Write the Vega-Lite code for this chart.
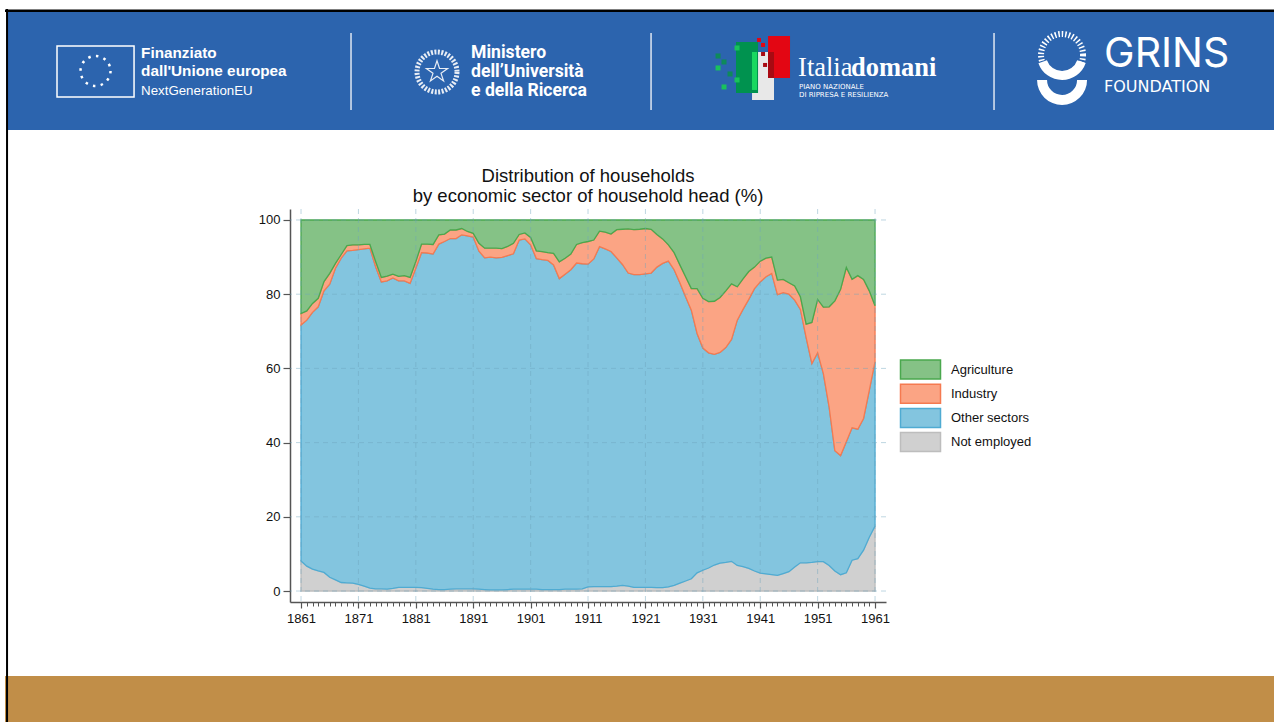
{
"$schema":"https://vega.github.io/schema/vega-lite/v6.json",
"width":596,"height":393,
"autosize":{"type":"none"},
"padding":{"left":290,"top":209,"right":388,"bottom":120},
"background":"white",
"config":{"view":{"stroke":null}},
"title":{"text":["Distribution of households","by economic sector of household head (%)"],"font":"Liberation Sans","fontSize":18.5,"fontWeight":"normal","color":"#111","anchor":"middle","frame":"group","lineHeight":20,"offset":6,"dy":203},
"datasets":{"households":[
{"year":1861,"Agriculture":25.2,"Industry":3.1,"Other sectors":63.6,"Not employed":8.1},
{"year":1862,"Agriculture":24.5,"Industry":2.5,"Other sectors":66.3,"Not employed":6.7},
{"year":1863,"Agriculture":22.5,"Industry":2.4,"Other sectors":69.2,"Not employed":5.9},
{"year":1864,"Agriculture":21.1,"Industry":2.3,"Other sectors":71.2,"Not employed":5.4},
{"year":1865,"Agriculture":16.6,"Industry":2.5,"Other sectors":75.9,"Not employed":5},
{"year":1866,"Agriculture":14.4,"Industry":2.9,"Other sectors":79,"Not employed":3.7},
{"year":1867,"Agriculture":11.7,"Industry":1.3,"Other sectors":84,"Not employed":3},
{"year":1868,"Agriculture":9.3,"Industry":1,"Other sectors":87.4,"Not employed":2.3},
{"year":1869,"Agriculture":6.9,"Industry":1.4,"Other sectors":89.5,"Not employed":2.2},
{"year":1870,"Agriculture":6.7,"Industry":1.5,"Other sectors":89.7,"Not employed":2.1},
{"year":1871,"Agriculture":6.7,"Industry":1.3,"Other sectors":90.2,"Not employed":1.8},
{"year":1872,"Agriculture":6.6,"Industry":1.2,"Other sectors":90.9,"Not employed":1.3},
{"year":1873,"Agriculture":6.6,"Industry":1,"Other sectors":91.6,"Not employed":0.8},
{"year":1874,"Agriculture":11.2,"Industry":1.4,"Other sectors":86.8,"Not employed":0.6},
{"year":1875,"Agriculture":15.5,"Industry":1.2,"Other sectors":82.7,"Not employed":0.6},
{"year":1876,"Agriculture":15.1,"Industry":1.3,"Other sectors":83.1,"Not employed":0.5},
{"year":1877,"Agriculture":14.6,"Industry":1,"Other sectors":83.7,"Not employed":0.7},
{"year":1878,"Agriculture":15.2,"Industry":1.2,"Other sectors":82.6,"Not employed":1},
{"year":1879,"Agriculture":15,"Industry":1.4,"Other sectors":82.6,"Not employed":1},
{"year":1880,"Agriculture":15.5,"Industry":1.6,"Other sectors":81.9,"Not employed":1},
{"year":1881,"Agriculture":11.2,"Industry":1.8,"Other sectors":86,"Not employed":1},
{"year":1882,"Agriculture":6.5,"Industry":2.3,"Other sectors":90.3,"Not employed":0.9},
{"year":1883,"Agriculture":6.5,"Industry":2.4,"Other sectors":90.4,"Not employed":0.7},
{"year":1884,"Agriculture":6.6,"Industry":2.6,"Other sectors":90.3,"Not employed":0.5},
{"year":1885,"Agriculture":4,"Industry":2.5,"Other sectors":93.1,"Not employed":0.4},
{"year":1886,"Agriculture":3.8,"Industry":2,"Other sectors":93.8,"Not employed":0.4},
{"year":1887,"Agriculture":2.7,"Industry":2.3,"Other sectors":94.5,"Not employed":0.5},
{"year":1888,"Agriculture":2.7,"Industry":2.3,"Other sectors":94.4,"Not employed":0.6},
{"year":1889,"Agriculture":2.3,"Industry":1.7,"Other sectors":95.4,"Not employed":0.6},
{"year":1890,"Agriculture":3.1,"Industry":1.2,"Other sectors":95.1,"Not employed":0.6},
{"year":1891,"Agriculture":3.6,"Industry":1,"Other sectors":94.8,"Not employed":0.6},
{"year":1892,"Agriculture":6.3,"Industry":2.1,"Other sectors":91.1,"Not employed":0.5},
{"year":1893,"Agriculture":7.6,"Industry":2.6,"Other sectors":89.4,"Not employed":0.4},
{"year":1894,"Agriculture":7.6,"Industry":2.4,"Other sectors":89.7,"Not employed":0.3},
{"year":1895,"Agriculture":7.6,"Industry":2.6,"Other sectors":89.5,"Not employed":0.3},
{"year":1896,"Agriculture":7.7,"Industry":2.4,"Other sectors":89.6,"Not employed":0.3},
{"year":1897,"Agriculture":7.1,"Industry":2.5,"Other sectors":90,"Not employed":0.4},
{"year":1898,"Agriculture":6.3,"Industry":2.8,"Other sectors":90.4,"Not employed":0.5},
{"year":1899,"Agriculture":3.9,"Industry":1.5,"Other sectors":94.1,"Not employed":0.5},
{"year":1900,"Agriculture":3.5,"Industry":1.6,"Other sectors":94.4,"Not employed":0.5},
{"year":1901,"Agriculture":4.7,"Industry":2,"Other sectors":92.8,"Not employed":0.5},
{"year":1902,"Agriculture":8.3,"Industry":2.1,"Other sectors":89.1,"Not employed":0.5},
{"year":1903,"Agriculture":8.5,"Industry":2.2,"Other sectors":88.9,"Not employed":0.4},
{"year":1904,"Agriculture":8.8,"Industry":2.1,"Other sectors":88.7,"Not employed":0.4},
{"year":1905,"Agriculture":9,"Industry":3.1,"Other sectors":87.5,"Not employed":0.4},
{"year":1906,"Agriculture":11.3,"Industry":4.5,"Other sectors":83.8,"Not employed":0.4},
{"year":1907,"Agriculture":10.3,"Industry":4.3,"Other sectors":84.9,"Not employed":0.5},
{"year":1908,"Agriculture":9.2,"Industry":4.2,"Other sectors":86.1,"Not employed":0.5},
{"year":1909,"Agriculture":6.6,"Industry":5,"Other sectors":87.9,"Not employed":0.5},
{"year":1910,"Agriculture":6.1,"Industry":5.7,"Other sectors":87.6,"Not employed":0.6},
{"year":1911,"Agriculture":5.8,"Industry":6.1,"Other sectors":87,"Not employed":1.1},
{"year":1912,"Agriculture":5.4,"Industry":5.1,"Other sectors":88.3,"Not employed":1.2},
{"year":1913,"Agriculture":3,"Industry":4.2,"Other sectors":91.6,"Not employed":1.2},
{"year":1914,"Agriculture":3.3,"Industry":4.5,"Other sectors":91,"Not employed":1.2},
{"year":1915,"Agriculture":3.8,"Industry":4.7,"Other sectors":90.3,"Not employed":1.2},
{"year":1916,"Agriculture":2.6,"Industry":7.6,"Other sectors":88.5,"Not employed":1.3},
{"year":1917,"Agriculture":2.5,"Industry":9.5,"Other sectors":86.5,"Not employed":1.5},
{"year":1918,"Agriculture":2.4,"Industry":11.9,"Other sectors":84.4,"Not employed":1.3},
{"year":1919,"Agriculture":2.6,"Industry":12.1,"Other sectors":84.3,"Not employed":1},
{"year":1920,"Agriculture":2.5,"Industry":12.2,"Other sectors":84.3,"Not employed":1},
{"year":1921,"Agriculture":2.3,"Industry":12.2,"Other sectors":84.5,"Not employed":1},
{"year":1922,"Agriculture":2.5,"Industry":11.8,"Other sectors":84.7,"Not employed":1},
{"year":1923,"Agriculture":3.9,"Industry":8.8,"Other sectors":86.4,"Not employed":0.9},
{"year":1924,"Agriculture":5.1,"Industry":6.6,"Other sectors":87.4,"Not employed":0.9},
{"year":1925,"Agriculture":6.7,"Industry":4.4,"Other sectors":87.8,"Not employed":1.1},
{"year":1926,"Agriculture":8.8,"Industry":4.6,"Other sectors":85.1,"Not employed":1.5},
{"year":1927,"Agriculture":12.1,"Industry":4.8,"Other sectors":81,"Not employed":2.1},
{"year":1928,"Agriculture":15.3,"Industry":5.4,"Other sectors":76.6,"Not employed":2.7},
{"year":1929,"Agriculture":18.5,"Industry":5.8,"Other sectors":72.4,"Not employed":3.3},
{"year":1930,"Agriculture":18.5,"Industry":12.1,"Other sectors":64.5,"Not employed":4.9},
{"year":1931,"Agriculture":21.1,"Industry":13.4,"Other sectors":59.9,"Not employed":5.6},
{"year":1932,"Agriculture":22,"Industry":13.8,"Other sectors":58,"Not employed":6.2},
{"year":1933,"Agriculture":21.9,"Industry":14.3,"Other sectors":56.8,"Not employed":7},
{"year":1934,"Agriculture":20.9,"Industry":14.8,"Other sectors":56.8,"Not employed":7.5},
{"year":1935,"Agriculture":19.1,"Industry":15.3,"Other sectors":57.9,"Not employed":7.7},
{"year":1936,"Agriculture":17.2,"Industry":15,"Other sectors":59.8,"Not employed":8},
{"year":1937,"Agriculture":18,"Industry":9,"Other sectors":66.1,"Not employed":6.9},
{"year":1938,"Agriculture":15.9,"Industry":8.2,"Other sectors":69.3,"Not employed":6.6},
{"year":1939,"Agriculture":13.9,"Industry":7.5,"Other sectors":72.5,"Not employed":6.1},
{"year":1940,"Agriculture":12.7,"Industry":5.8,"Other sectors":76.1,"Not employed":5.4},
{"year":1941,"Agriculture":11.1,"Industry":5.6,"Other sectors":78.5,"Not employed":4.8},
{"year":1942,"Agriculture":10.3,"Industry":5,"Other sectors":80.1,"Not employed":4.6},
{"year":1943,"Agriculture":10,"Industry":4.4,"Other sectors":81.2,"Not employed":4.4},
{"year":1944,"Agriculture":16.2,"Industry":3.9,"Other sectors":75.7,"Not employed":4.2},
{"year":1945,"Agriculture":16,"Industry":3.6,"Other sectors":75.7,"Not employed":4.7},
{"year":1946,"Agriculture":16.9,"Industry":3.1,"Other sectors":74.8,"Not employed":5.2},
{"year":1947,"Agriculture":17.8,"Industry":3.8,"Other sectors":71.9,"Not employed":6.5},
{"year":1948,"Agriculture":20.7,"Industry":3.4,"Other sectors":68.3,"Not employed":7.6},
{"year":1949,"Agriculture":28.1,"Industry":3.6,"Other sectors":60.7,"Not employed":7.6},
{"year":1950,"Agriculture":27.6,"Industry":11.1,"Other sectors":53.6,"Not employed":7.7},
{"year":1951,"Agriculture":21.4,"Industry":14.4,"Other sectors":56.3,"Not employed":7.9},
{"year":1952,"Agriculture":23.5,"Industry":17.9,"Other sectors":50.7,"Not employed":7.9},
{"year":1953,"Agriculture":23.4,"Industry":27,"Other sectors":42.7,"Not employed":6.9},
{"year":1954,"Agriculture":21.8,"Industry":40.4,"Other sectors":32.4,"Not employed":5.4},
{"year":1955,"Agriculture":18.7,"Industry":44.8,"Other sectors":32.1,"Not employed":4.4},
{"year":1956,"Agriculture":12.8,"Industry":47,"Other sectors":35.3,"Not employed":4.9},
{"year":1957,"Agriculture":16,"Industry":40,"Other sectors":35.7,"Not employed":8.3},
{"year":1958,"Agriculture":15,"Industry":41.4,"Other sectors":34.9,"Not employed":8.7},
{"year":1959,"Agriculture":16,"Industry":37.5,"Other sectors":35.5,"Not employed":11},
{"year":1960,"Agriculture":19.1,"Industry":26.8,"Other sectors":39.6,"Not employed":14.5},
{"year":1961,"Agriculture":23.1,"Industry":15.1,"Other sectors":44.3,"Not employed":17.5}
]},
"data":{"values":[{"item":"page furniture"}]},
"resolve":{"axis":{"x":"independent","y":"independent"}},
"layer":[
{"data":{"name":"households"},
 "transform":[
  {"fold":["Not employed","Other sectors","Industry","Agriculture"],"as":["sector","share"]},
  {"stack":"share","groupby":["year"],"as":["y0","y1"]}
 ],
 "mark":{"type":"area","strokeWidth":1.3,"interpolate":"linear"},
 "encoding":{
  "x":{"field":"year","type":"quantitative","scale":{"domain":[1859.08,1962.91],"nice":false,"zero":false},
   "axis":{"title":null,"orient":"bottom","values":[1861,1871,1881,1891,1901,1911,1921,1931,1941,1951,1961],"format":"d","tickSize":6,"tickColor":"#555","tickWidth":1.2,"domainColor":"#555","domainWidth":1.5,"labelFont":"Liberation Sans","labelFontSize":13,"labelColor":"#111","labelPadding":4,"labelFlush":false,"labelOverlap":false,"grid":false}},
  "y":{"field":"y1","type":"quantitative","scale":{"domain":[-2.96,102.96],"nice":false,"zero":false},
   "axis":{"title":null,"orient":"left","values":[0,20,40,60,80,100],"tickSize":7,"tickColor":"#555","tickWidth":1.2,"domainColor":"#555","domainWidth":1.5,"labelFont":"Liberation Sans","labelFontSize":13,"labelColor":"#111","labelPadding":3,"grid":false}},
  "y2":{"field":"y0"},
  "color":{"field":"sector","type":"nominal","scale":{"domain":["Agriculture","Industry","Other sectors","Not employed"],"range":["#85c286","#fba484","#83c5df","#d0d0d0"]},
   "legend":{"title":null,"orient":"none","legendX":624,"legendY":154,"symbolType":"M-4,-1.9H4V1.9H-4Z","symbolSize":100,"symbolStrokeWidth":1.5,"labelFont":"Liberation Sans","labelFontSize":13,"labelColor":"#111","labelOffset":24,"rowPadding":-0.8,"padding":0}},
  "stroke":{"field":"sector","type":"nominal","scale":{"domain":["Agriculture","Industry","Other sectors","Not employed"],"range":["#4aa84e","#f57a50","#4fabd2","#bdbdbd"]},"legend":{"title":null,"orient":"none","legendX":624,"legendY":154,"symbolType":"M-4,-1.9H4V1.9H-4Z","symbolSize":100,"symbolStrokeWidth":1.5,"labelFont":"Liberation Sans","labelFontSize":13,"labelColor":"#111","labelOffset":24,"rowPadding":-0.8,"padding":0}}
 }},
{"data":{"values":[{"year":1861},{"year":1871},{"year":1881},{"year":1891},{"year":1901},{"year":1911},{"year":1921},{"year":1931},{"year":1941},{"year":1951},{"year":1961}]},"mark":{"type":"rule","stroke":"#6fa3bd","opacity":0.45,"strokeWidth":1,"strokeDash":[5,4]},"encoding":{"x":{"field":"year","type":"quantitative","axis":null}}},
{"data":{"values":[{"level":0},{"level":20},{"level":40},{"level":60},{"level":80},{"level":100}]},"mark":{"type":"rule","stroke":"#6fa3bd","opacity":0.45,"strokeWidth":1,"strokeDash":[5,4]},"encoding":{"y":{"field":"level","type":"quantitative","axis":null}}},
{"mark":{"type":"rule","opacity":0},"encoding":{"x":{"datum":1861,"axis":{"title":null,"orient":"bottom","values":[1861,1862,1863,1864,1865,1866,1867,1868,1869,1870,1871,1872,1873,1874,1875,1876,1877,1878,1879,1880,1881,1882,1883,1884,1885,1886,1887,1888,1889,1890,1891,1892,1893,1894,1895,1896,1897,1898,1899,1900,1901,1902,1903,1904,1905,1906,1907,1908,1909,1910,1911,1912,1913,1914,1915,1916,1917,1918,1919,1920,1921,1922,1923,1924,1925,1926,1927,1928,1929,1930,1931,1932,1933,1934,1935,1936,1937,1938,1939,1940,1941,1942,1943,1944,1945,1946,1947,1948,1949,1950,1951,1952,1953,1954,1955,1956,1957,1958,1959,1960,1961],"labels":false,"domain":false,"grid":false,"tickSize":4,"tickColor":"#555","tickWidth":1}}}},
{"mark":{"type":"rect","fill":"#2c64ae"},"encoding":{"x":{"datum":1809.78,"axis":null},"x2":{"datum":2030.51},"y":{"datum":156.06,"axis":null},"y2":{"datum":124.26}}},
{"mark":{"type":"rect","fill":"#c18e48"},"encoding":{"x":{"datum":1809.43,"axis":null},"x2":{"datum":2030.51},"y":{"datum":-22.91,"axis":null},"y2":{"datum":-35.31}}},
{"mark":{"type":"rect","fill":"#000"},"encoding":{"x":{"datum":1809.43,"axis":null},"x2":{"datum":2030.51},"y":{"datum":156.74,"axis":null},"y2":{"datum":156.06}}},
{"mark":{"type":"rect","fill":"#000"},"encoding":{"x":{"datum":1809.61,"axis":null},"x2":{"datum":1809.96},"y":{"datum":156.87,"axis":null},"y2":{"datum":-35.31}}},
{"mark":{"type":"rect","fill":null,"stroke":"#fff","strokeWidth":1.5},"encoding":{"x":{"datum":1818.49,"axis":null},"x2":{"datum":1831.91},"y":{"datum":146.9,"axis":null},"y2":{"datum":133.15}}},
{"mark":{"type":"point","shape":"circle","size":900,"filled":false,"stroke":"#fff","strokeWidth":2.5,"strokeDash":[2.5,5.35],"opacity":1},"encoding":{"x":{"datum":1825.2,"axis":null},"y":{"datum":140.16,"axis":null}}},
{"mark":{"type":"text","text":"Finanziato","font":"Liberation Sans","fontWeight":"bold","fontSize":15.3,"fill":"#fff","align":"left","baseline":"middle"},"encoding":{"x":{"datum":1833.13,"axis":null},"y":{"datum":145.01,"axis":null}}},
{"mark":{"type":"text","text":"dall'Unione europea","font":"Liberation Sans","fontWeight":"bold","fontSize":15.3,"fill":"#fff","align":"left","baseline":"middle"},"encoding":{"x":{"datum":1833.13,"axis":null},"y":{"datum":140.16,"axis":null}}},
{"mark":{"type":"text","text":"NextGenerationEU","font":"Liberation Sans","fontSize":13.3,"fill":"#fff","align":"left","baseline":"middle"},"encoding":{"x":{"datum":1833.13,"axis":null},"y":{"datum":134.77,"axis":null}}},
{"mark":{"type":"rule","stroke":"#dfe7f2","strokeWidth":1.5},"encoding":{"x":{"datum":1869.71,"axis":null},"y":{"datum":150.4,"axis":null},"y2":{"datum":129.65}}},
{"mark":{"type":"rule","stroke":"#dfe7f2","strokeWidth":1.5},"encoding":{"x":{"datum":1921.98,"axis":null},"y":{"datum":150.4,"axis":null},"y2":{"datum":129.65}}},
{"mark":{"type":"rule","stroke":"#dfe7f2","strokeWidth":1.5},"encoding":{"x":{"datum":1981.73,"axis":null},"y":{"datum":150.4,"axis":null},"y2":{"datum":129.65}}},
{"mark":{"type":"point","shape":"circle","size":1600,"filled":false,"stroke":"#e8edf5","strokeWidth":5,"strokeDash":[2,1.5],"opacity":1},"encoding":{"x":{"datum":1884.69,"axis":null},"y":{"datum":139.89,"axis":null}}},
{"mark":{"type":"point","shape":"M0,-1L0.225,-0.31L0.95,-0.31L0.36,0.12L0.59,0.81L0,0.38L-0.59,0.81L-0.36,0.12L-0.95,-0.31L-0.225,-0.31Z","size":500,"filled":false,"stroke":"#e8edf5","strokeWidth":1.2,"opacity":1},"encoding":{"x":{"datum":1884.69,"axis":null},"y":{"datum":139.89,"axis":null}}},
{"mark":{"type":"text","text":"Ministero","font":"Roboto","fontWeight":"bold","fontSize":17.6,"fill":"#fff","align":"left","baseline":"middle"},"encoding":{"x":{"datum":1890.62,"axis":null},"y":{"datum":145.01,"axis":null}}},
{"mark":{"type":"text","text":"dell’Università","font":"Roboto","fontWeight":"bold","fontSize":17.6,"fill":"#fff","align":"left","baseline":"middle"},"encoding":{"x":{"datum":1890.62,"axis":null},"y":{"datum":139.89,"axis":null}}},
{"mark":{"type":"text","text":"e della Ricerca","font":"Roboto","fontWeight":"bold","fontSize":17.6,"fill":"#fff","align":"left","baseline":"middle"},"encoding":{"x":{"datum":1890.62,"axis":null},"y":{"datum":134.77,"axis":null}}},
{"mark":{"type":"rect","fill":"#e8e8e8"},"encoding":{"x":{"datum":1939.57,"axis":null},"x2":{"datum":1943.4},"y":{"datum":145.28,"axis":null},"y2":{"datum":132.35}}},
{"mark":{"type":"rect","fill":"#00924f"},"encoding":{"x":{"datum":1936.78,"axis":null},"x2":{"datum":1940.62},"y":{"datum":147.98,"axis":null},"y2":{"datum":134.23}}},
{"mark":{"type":"rect","fill":"#19d860"},"encoding":{"x":{"datum":1939.57,"axis":null},"x2":{"datum":1940.44},"y":{"datum":145.28,"axis":null},"y2":{"datum":135.04}}},
{"mark":{"type":"rect","fill":"#e30613"},"encoding":{"x":{"datum":1942.36,"axis":null},"x2":{"datum":1946.19},"y":{"datum":149.6,"axis":null},"y2":{"datum":138.27}}},
{"mark":{"type":"rect","fill":"#a80a12"},"encoding":{"x":{"datum":1942.36,"axis":null},"x2":{"datum":1943.4},"y":{"datum":145.28,"axis":null},"y2":{"datum":138.27}}},
{"mark":{"type":"point","shape":"square","size":25,"filled":true,"fill":"#0e8a5a","opacity":1},"encoding":{"x":{"datum":1933.65,"axis":null},"y":{"datum":144.2,"axis":null}}},
{"mark":{"type":"point","shape":"square","size":25,"filled":true,"fill":"#0e8a5a","opacity":1},"encoding":{"x":{"datum":1934.69,"axis":null},"y":{"datum":142.59,"axis":null}}},
{"mark":{"type":"point","shape":"square","size":25,"filled":true,"fill":"#19c25c","opacity":1},"encoding":{"x":{"datum":1933.65,"axis":null},"y":{"datum":140.97,"axis":null}}},
{"mark":{"type":"point","shape":"square","size":25,"filled":true,"fill":"#19c25c","opacity":1},"encoding":{"x":{"datum":1936.96,"axis":null},"y":{"datum":146.36,"axis":null}}},
{"mark":{"type":"point","shape":"square","size":25,"filled":true,"fill":"#0e8a5a","opacity":1},"encoding":{"x":{"datum":1935.74,"axis":null},"y":{"datum":139.35,"axis":null}}},
{"mark":{"type":"point","shape":"square","size":25,"filled":true,"fill":"#19c25c","opacity":1},"encoding":{"x":{"datum":1936.96,"axis":null},"y":{"datum":137.74,"axis":null}}},
{"mark":{"type":"point","shape":"square","size":25,"filled":true,"fill":"#19c25c","opacity":1},"encoding":{"x":{"datum":1934.69,"axis":null},"y":{"datum":135.85,"axis":null}}},
{"mark":{"type":"point","shape":"square","size":16,"filled":true,"fill":"#e30613","opacity":1},"encoding":{"x":{"datum":1940.79,"axis":null},"y":{"datum":148.52,"axis":null}}},
{"mark":{"type":"point","shape":"square","size":16,"filled":true,"fill":"#e30613","opacity":1},"encoding":{"x":{"datum":1941.49,"axis":null},"y":{"datum":147.17,"axis":null}}},
{"mark":{"type":"point","shape":"square","size":16,"filled":true,"fill":"#a80a12","opacity":1},"encoding":{"x":{"datum":1941.49,"axis":null},"y":{"datum":144.74,"axis":null}}},
{"mark":{"type":"point","shape":"square","size":16,"filled":true,"fill":"#a80a12","opacity":1},"encoding":{"x":{"datum":1941.84,"axis":null},"y":{"datum":141.78,"axis":null}}},
{"mark":{"type":"text","text":"Italia","font":"Liberation Serif","fontSize":26.5,"fill":"#fff","align":"left","baseline":"middle"},"encoding":{"x":{"datum":1947.59,"axis":null},"y":{"datum":140.97,"axis":null}}},
{"mark":{"type":"text","text":"domani","font":"Liberation Serif","fontWeight":"bold","fontSize":26.5,"fill":"#fff","align":"left","baseline":"middle"},"encoding":{"x":{"datum":1956.82,"axis":null},"y":{"datum":140.97,"axis":null}}},
{"mark":{"type":"text","text":"PIANO NAZIONALE","font":"DejaVu Sans","fontSize":7,"fill":"#fff","align":"left","baseline":"middle"},"encoding":{"x":{"datum":1947.76,"axis":null},"y":{"datum":135.71,"axis":null}}},
{"mark":{"type":"text","text":"DI RIPRESA E RESILIENZA","font":"DejaVu Sans","fontSize":7,"fill":"#fff","align":"left","baseline":"middle"},"encoding":{"x":{"datum":1947.76,"axis":null},"y":{"datum":133.69,"axis":null}}},
{"mark":{"type":"point","shape":"circle","size":1764,"filled":false,"stroke":"#fff","strokeWidth":6,"strokeDash":[1.5,2],"opacity":1},"encoding":{"x":{"datum":1993.58,"axis":null},"y":{"datum":144.47,"axis":null}}},
{"mark":{"type":"arc","fill":"#fff","theta":1.9,"theta2":4.38,"radius":25,"radius2":16},"encoding":{"x":{"datum":1993.58,"axis":null},"y":{"datum":144.47,"axis":null}}},
{"mark":{"type":"arc","fill":"#fff","theta":1.57,"theta2":4.71,"radius":25,"radius2":15},"encoding":{"x":{"datum":1993.58,"axis":null},"y":{"datum":137.74,"axis":null}}},
{"mark":{"type":"text","text":"GRINS","font":"Inter","fontSize":41,"fill":"#fff","align":"left","baseline":"middle"},"encoding":{"x":{"datum":2000.9,"axis":null},"y":{"datum":144.6,"axis":null}}},
{"mark":{"type":"text","text":"FOUNDATION","font":"DejaVu Sans","fontSize":16,"fill":"#fff","align":"left","baseline":"middle"},"encoding":{"x":{"datum":2000.9,"axis":null},"y":{"datum":135.85,"axis":null}}}
]
}
